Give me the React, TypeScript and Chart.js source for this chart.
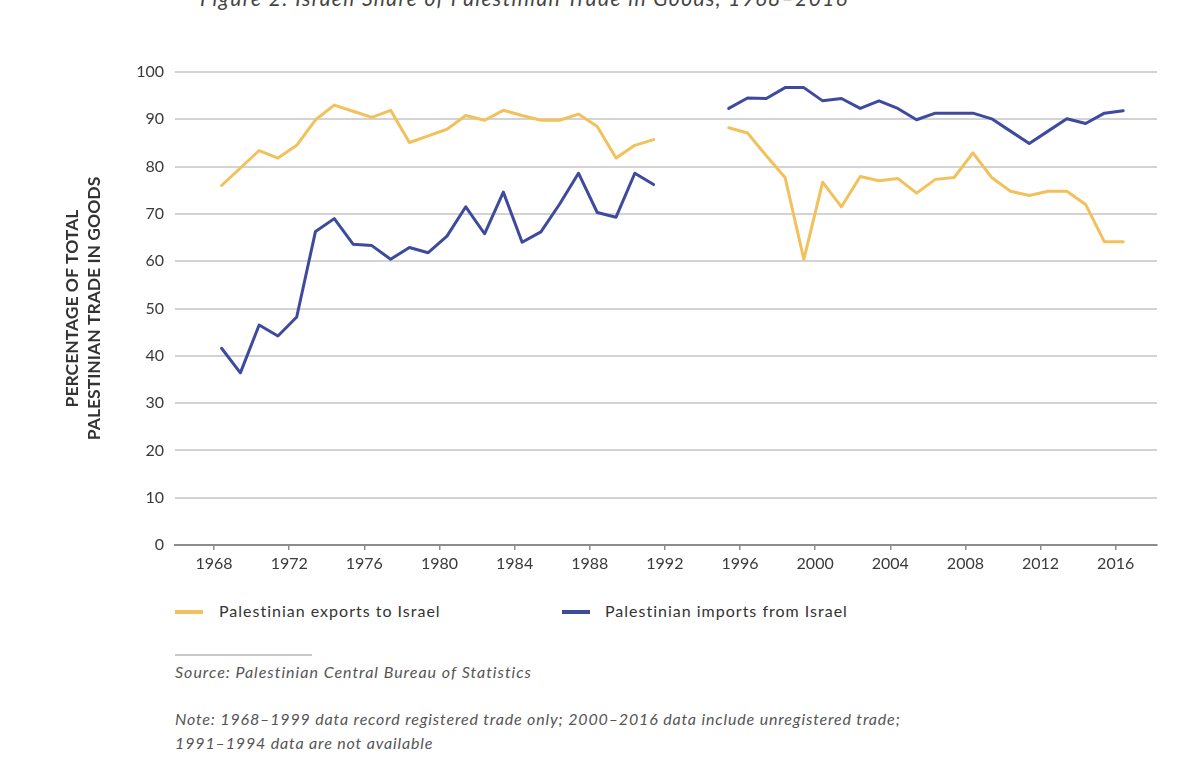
import React, { useEffect, useRef } from 'react';
import { Chart, registerables } from 'chart.js';

Chart.register(...registerables);

// ---- Data ----
const YEARS = [
  1968, 1969, 1970, 1971, 1972, 1973, 1974, 1975, 1976, 1977, 1978, 1979,
  1980, 1981, 1982, 1983, 1984, 1985, 1986, 1987, 1988, 1989, 1990, 1991,
  1992, 1993, 1994, 1995, 1996, 1997, 1998, 1999, 2000, 2001, 2002, 2003,
  2004, 2005, 2006, 2007, 2008, 2009, 2010, 2011, 2012, 2013, 2014, 2015, 2016,
];

const EXPORTS_TO_ISRAEL: (number | null)[] = [
  76.0, 79.7, 83.4, 81.8, 84.5, 89.9, 93.0, 91.7, 90.4, 91.9, 85.1, 86.5,
  87.9, 90.8, 89.8, 91.9, 90.8, 89.8, 89.8, 91.1, 88.5, 81.8, 84.5, 85.7,
  null, null, null, 88.2, 87.1, 82.3, 77.7, 60.4, 76.7, 71.5, 77.9, 77.0,
  77.5, 74.4, 77.3, 77.7, 82.9, 77.7, 74.8, 73.9, 74.8, 74.8, 72.0, 64.1, 64.1,
];

const IMPORTS_FROM_ISRAEL: (number | null)[] = [
  41.6, 36.4, 46.5, 44.2, 48.2, 66.3, 69.0, 63.6, 63.3, 60.4, 62.9, 61.8,
  65.3, 71.5, 65.8, 74.6, 64.0, 66.2, 72.1, 78.6, 70.3, 69.3, 78.6, 76.2,
  null, null, null, 92.3, 94.5, 94.4, 96.7, 96.7, 93.9, 94.4, 92.3, 93.9,
  92.3, 89.9, 91.3, 91.3, 91.3, 90.1, 87.5, 84.9, 87.5, 90.1, 89.1, 91.3, 91.8,
];

const X_TICK_YEARS = [1968, 1972, 1976, 1980, 1984, 1988, 1992, 1996, 2000, 2004, 2008, 2012, 2016];
const Y_TICKS = [0, 10, 20, 30, 40, 50, 60, 70, 80, 90, 100];

const SERIES_LABELS = ['Palestinian exports to Israel', 'Palestinian imports from Israel'];
const TITLE = 'Figure 2: Israeli Share of Palestinian Trade in Goods, 1968–2016';
const Y_TITLE = ['PERCENTAGE OF TOTAL', 'PALESTINIAN TRADE IN GOODS'];
const SOURCE = 'Source: Palestinian Central Bureau of Statistics';
const NOTE_LINES = [
  'Note: 1968–1999 data record registered trade only; 2000–2016 data include unregistered trade;',
  '1991–1994 data are not available',
];

// ---- Styling ----
const YELLOW = '#F2C15B';
const BLUE = '#3E4A9D';
const FONT = 'Lato, "Open Sans", sans-serif';
const MID_YEAR = 0.4; // annual values are plotted slightly right of the year tick

export default function App() {
  const canvasRef = useRef<HTMLCanvasElement | null>(null);

  useEffect(() => {
    document.body.style.margin = '0';
    const canvas = canvasRef.current;
    if (!canvas) return;
    const toPoints = (vals: (number | null)[]) =>
      YEARS.map((yr, i) => ({ x: yr + MID_YEAR, y: vals[i] }));

    const chart = new Chart(canvas, {
      type: 'line',
      data: {
        datasets: [
          {
            label: SERIES_LABELS[0],
            data: toPoints(EXPORTS_TO_ISRAEL) as any,
            borderColor: YELLOW,
            backgroundColor: YELLOW,
          },
          {
            label: SERIES_LABELS[1],
            data: toPoints(IMPORTS_FROM_ISRAEL) as any,
            borderColor: BLUE,
            backgroundColor: BLUE,
          },
        ],
      },
      options: {
        animation: false,
        responsive: false,
        maintainAspectRatio: false,
        spanGaps: false,
        layout: { padding: { top: 72, right: 46, bottom: 0, left: 0 } },
        plugins: { legend: { display: false }, tooltip: { enabled: false } },
        elements: {
          point: { radius: 0 },
          line: { borderWidth: 3, tension: 0, borderJoinStyle: 'round', borderCapStyle: 'round' },
        },
        scales: {
          x: {
            type: 'linear',
            min: 1965.92,
            max: 2018.2,
            afterBuildTicks: (s: any) => {
              s.ticks = X_TICK_YEARS.map((v) => ({ value: v }));
            },
            afterFit: (s: any) => {
              s.height = 45;
            },
            grid: {
              drawOnChartArea: false,
              drawTicks: true,
              tickLength: 5,
              color: '#8c8c8c',
              lineWidth: 1.5,
            },
            border: { display: true, color: '#8c8c8c', width: 2 },
            ticks: {
              callback: (v: any) => String(v),
              font: { family: FONT, size: 16 },
              color: '#3a3a3a',
              padding: 4,
              maxRotation: 0,
              autoSkip: false,
            },
          },
          y: {
            type: 'linear',
            min: 0,
            max: 100,
            afterBuildTicks: (s: any) => {
              s.ticks = Y_TICKS.map((v) => ({ value: v }));
            },
            afterFit: (s: any) => {
              s.width = 175;
            },
            grid: {
              color: (ctx: any) => (ctx.tick && ctx.tick.value === 0 ? 'rgba(0,0,0,0)' : '#d3d3d3'),
              lineWidth: 2,
              drawTicks: false,
            },
            border: { display: false },
            ticks: {
              font: { family: FONT, size: 16 },
              color: '#3a3a3a',
              padding: 11,
            },
            title: {
              display: true,
              text: Y_TITLE,
              color: '#333333',
              font: { family: FONT, size: 17.5, weight: 'bold', lineHeight: 1.26 },
              padding: { top: 61.5, bottom: 0 },
            },
          },
        },
      },
    });
    return () => chart.destroy();
  }, []);

  const italic: React.CSSProperties = {
    position: 'absolute',
    left: 175,
    fontFamily: FONT,
    fontStyle: 'italic',
    fontSize: 16,
    color: '#555',
    whiteSpace: 'nowrap',
    margin: 0,
  };

  return (
    <div style={{ position: 'relative', width: 1203, height: 767, background: '#fff', overflow: 'hidden' }}>
      <div
        style={{
          position: 'absolute',
          left: 200,
          top: -15,
          fontFamily: FONT,
          fontStyle: 'italic',
          fontSize: 21,
          letterSpacing: 1.4,
          color: '#444',
          whiteSpace: 'nowrap',
        }}
      >
        {TITLE}
      </div>
      <canvas ref={canvasRef} width={1203} height={590} style={{ position: 'absolute', left: 0, top: 0, display: 'block' }} />
      <div style={{ position: 'absolute', top: 601, left: 0, height: 20, fontFamily: FONT, fontSize: 16, letterSpacing: 1, color: '#333' }}>
        <div style={{ position: 'absolute', left: 175, top: 9, width: 28, height: 4, background: YELLOW }} />
        <div style={{ position: 'absolute', left: 219, top: 0, whiteSpace: 'nowrap' }}>{SERIES_LABELS[0]}</div>
        <div style={{ position: 'absolute', left: 562, top: 9, width: 28, height: 4, background: BLUE }} />
        <div style={{ position: 'absolute', left: 605, top: 0, whiteSpace: 'nowrap' }}>{SERIES_LABELS[1]}</div>
      </div>
      <div style={{ position: 'absolute', left: 175, top: 654, width: 137, height: 2, background: '#c8c8c8' }} />
      <div style={{ ...italic, top: 662, letterSpacing: 1 }}>{SOURCE}</div>
      <div style={{ ...italic, top: 707, lineHeight: '24px', letterSpacing: 0.85 }}>
        {NOTE_LINES.map((l, i) => (
          <div key={i}>{l}</div>
        ))}
      </div>
    </div>
  );
}
